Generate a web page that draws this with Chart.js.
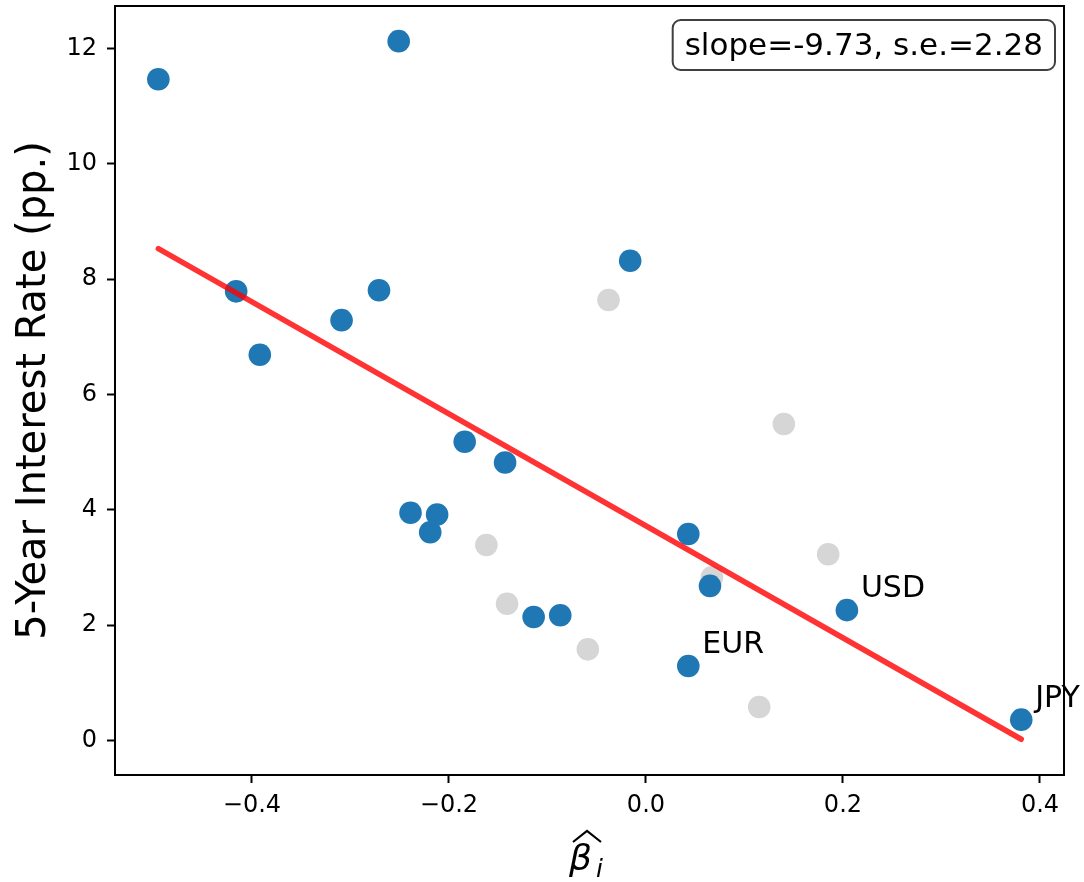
<!DOCTYPE html>
<html>
<head>
<meta charset="utf-8">
<script src="https://cdn.jsdelivr.net/npm/chart.js@4.4.0/dist/chart.umd.min.js"></script>
<style>
  html, body { margin: 0; padding: 0; background: #fff; }
  #wrap { width: 1084px; height: 882px; }
</style>
</head>
<body>
<div id="wrap"><canvas id="grafico" width="1084" height="882"></canvas></div>
<script>
// pontos destacados (azul)
var blueX = [-0.495, -0.251, -0.416, -0.392, -0.309, -0.271, -0.016, -0.184, -0.143, -0.239, -0.212, -0.219, -0.114, -0.087, 0.043, 0.065, 0.043, 0.204, 0.381];
var blueY = [11.47, 12.13, 7.79, 6.69, 7.29, 7.81, 8.32, 5.18, 4.82, 3.95, 3.92, 3.61, 2.14, 2.17, 3.58, 2.68, 1.29, 2.26, 0.36];

// pontos em cinza
var grayX = [-0.038, 0.140, -0.162, -0.141, -0.059, 0.185, 0.067, 0.115];
var grayY = [7.64, 5.49, 3.39, 2.37, 1.58, 3.23, 2.83, 0.58];

// reta ajustada
var lineX = [-0.495, 0.381];
var lineY = [8.53, 0.02];

// rotulos das moedas (indice no array azul)
var tagNames = ['USD', 'EUR', 'JPY'];
var tagIndex = [17, 16, 18];

var xTicks = [-0.4, -0.2, 0.0, 0.2, 0.4];
var yTicks = [0, 2, 4, 6, 8, 10, 12];

var statText = 'slope=-9.73, s.e.=2.28';
var yTitle = '5-Year Interest Rate (pp.)';

var FONT = "'DejaVu Sans', sans-serif";

function pts(xs, ys) {
    return xs.map(function (x, i) { return { x: x, y: ys[i] }; });
}

// desenha moldura, titulos, caixa e rotulos
var extras = {
    id: 'extras',
    afterDatasetsDraw: function (chart) {
        var ctx = chart.ctx;
        var a = chart.chartArea;
        var xs = chart.scales.x, ys = chart.scales.y;
        ctx.save();

        // moldura
        ctx.strokeStyle = '#000';
        ctx.lineWidth = 2;
        ctx.strokeRect(a.left, a.top, a.right - a.left, a.bottom - a.top);

        // rotulos USD / EUR / JPY
        ctx.fillStyle = '#000';
        ctx.font = '30px ' + FONT;
        ctx.textAlign = 'left';
        ctx.textBaseline = 'alphabetic';
        tagNames.forEach(function (t, k) {
            var i = tagIndex[k];
            var px = xs.getPixelForValue(blueX[i]);
            var py = ys.getPixelForValue(blueY[i]);
            ctx.fillText(t, px + 14, py - 13);
        });

        // caixa com slope
        ctx.font = '31px ' + FONT;
        var w = ctx.measureText(statText).width;
        var bx1 = 1055, bx0 = bx1 - w - 24, by0 = 20, by1 = 70;
        ctx.beginPath();
        ctx.roundRect(bx0, by0, bx1 - bx0, by1 - by0, 8);
        ctx.fillStyle = '#fff';
        ctx.fill();
        ctx.strokeStyle = '#404040';
        ctx.lineWidth = 2;
        ctx.stroke();
        ctx.fillStyle = '#000';
        ctx.textAlign = 'center';
        ctx.fillText(statText, (bx0 + bx1) / 2, 55);

        // titulo do eixo y
        ctx.save();
        ctx.translate(45, (a.top + a.bottom) / 2);
        ctx.rotate(-Math.PI / 2);
        ctx.font = '40px ' + FONT;
        ctx.textAlign = 'center';
        ctx.textBaseline = 'alphabetic';
        ctx.fillText(yTitle, 0, 0);
        ctx.restore();

        // titulo do eixo x: beta chapeu indice i
        ctx.font = 'italic 36px ' + FONT;
        ctx.textAlign = 'left';
        ctx.fillText('\u03B2', 569, 870);
        ctx.font = 'italic 25px ' + FONT;
        ctx.fillText('i', 596, 877);
        ctx.beginPath();
        ctx.moveTo(573, 842);
        ctx.lineTo(587, 831);
        ctx.lineTo(601, 842);
        ctx.lineWidth = 2.2;
        ctx.strokeStyle = '#000';
        ctx.stroke();

        ctx.restore();
    }
};

var data = {
    datasets: [
        {
            type: 'line',
            data: pts(lineX, lineY),
            borderColor: 'rgba(255,0,0,0.8)',
            borderWidth: 5.5,
            borderCapStyle: 'round',
            pointRadius: 0,
            fill: false,
            order: 0
        },
        {
            data: pts(blueX, blueY),
            backgroundColor: '#1f77b4',
            borderWidth: 0,
            pointRadius: 11.3,
            order: 1
        },
        {
            data: pts(grayX, grayY),
            backgroundColor: '#d6d6d6',
            borderWidth: 0,
            pointRadius: 11.3,
            order: 2
        }
    ]
};

var tickFont = { family: FONT, size: 24 };

var options = {
    responsive: false,
    animation: false,
    layout: { autoPadding: false, padding: { left: 0, right: 20, top: 6, bottom: 0 } },
    plugins: { legend: { display: false }, tooltip: { enabled: false } },
    scales: {
        x: {
            type: 'linear',
            min: -0.539,
            max: 0.4244,
            afterBuildTicks: function (s) { s.ticks = xTicks.map(function (v) { return { value: v }; }); },
            afterFit: function (s) { s.height = 107; s.paddingLeft = 0; s.paddingRight = 0; },
            ticks: {
                color: '#000',
                font: tickFont,
                padding: 8,
                maxRotation: 0,
                callback: function (v) { return (v < 0 ? '\u2212' : '') + Math.abs(v).toFixed(1); }
            },
            grid: { drawOnChartArea: false, drawTicks: true, tickLength: 8, tickWidth: 2, tickColor: '#000' },
            border: { display: true, color: '#000', width: 2 }
        },
        y: {
            type: 'linear',
            min: -0.6,
            max: 12.74,
            afterBuildTicks: function (s) { s.ticks = yTicks.map(function (v) { return { value: v }; }); },
            afterFit: function (s) { s.width = 115; s.paddingTop = 0; s.paddingBottom = 0; },
            ticks: {
                color: '#000',
                font: tickFont,
                padding: 10,
                callback: function (v) { return String(v); }
            },
            grid: { drawOnChartArea: false, drawTicks: true, tickLength: 8, tickWidth: 2, tickColor: '#000' },
            border: { display: true, color: '#000', width: 2 }
        }
    }
};

var ctx = document.querySelector('#grafico').getContext('2d');
var scatter = new Chart(ctx, {
    type: 'scatter',
    data: data,
    options: options,
    plugins: [extras]
});
</script>
</body>
</html>
